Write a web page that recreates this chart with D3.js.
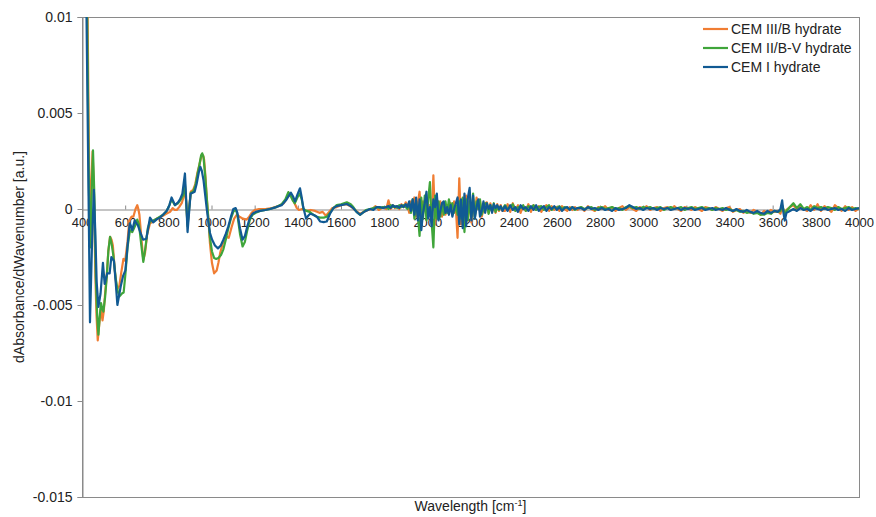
<!DOCTYPE html>
<html lang="en">
<head>
  <meta charset="UTF-8">
  <title>dAbsorbance/dWavenumber</title>
  <script src="https://d3js.org/d3.v7.min.js"></script>
  <style>
    body {
      margin: 0;
      padding: 0;
      background: #fff;
      font-family: 'Liberation Sans', Arial, sans-serif;
    }
    svg text { fill: #222; }
  </style>
</head>
<body>
  <div id="chart"></div>
  <script>
    // values in 10^-3 a.u.

    // 400 - 1800 cm-1, each series sampled at its own turning points [wavenumber, value]
    const cem3bLow = [
      [417, 12], [426, 10], [433, 2], [438, -1.5], [444, 1.5], [449, 3.0], [455, 1.0], [462, -3.5],
      [467, -5.5], [473, -6.85], [480, -6.0], [487, -5.2], [495, -5.8], [501, -5.3], [507, -4.4], [515, -3.4],
      [522, -2.2], [530, -1.45], [537, -1.6], [543, -1.9], [552, -3.2], [561, -4.2], [573, -4.0], [582, -3.3],
      [592, -2.6], [600, -2.7], [611, -1.7], [619, -0.6], [630, -0.4], [638, -0.4], [648, 0.0], [656, 0.2],
      [661, 0.0], [666, -0.3], [675, -1.5], [684, -2.65], [692, -2.3], [702, -1.3], [715, -0.75], [730, -0.65],
      [746, -0.5], [760, -0.45], [775, -0.35], [790, -0.25], [808, -0.15], [820, 0.05], [830, -0.05], [839, -0.05],
      [850, 0.1], [862, 0.3], [870, 0.6], [877, 1.2], [883, 0.3], [889, -0.8], [896, 0.0], [904, 0.9],
      [915, 1.0], [925, 1.3], [935, 1.9], [944, 2.3], [954, 2.8], [961, 2.8], [966, 2.55], [972, 1.7],
      [978, 0.6], [986, -0.6], [993, -1.8], [1002, -2.8], [1012, -3.35], [1024, -3.2], [1032, -2.8], [1040, -2.3],
      [1052, -1.8], [1063, -1.6], [1072, -1.45], [1080, -1.5], [1093, -0.95], [1105, -0.5], [1117, -0.3], [1130, -0.4],
      [1145, -0.5], [1163, -0.55], [1175, -0.4], [1186, -0.2], [1200, -0.05], [1220, 0.0], [1250, 0.0], [1280, 0.05],
      [1310, 0.15], [1335, 0.3], [1352, 0.6], [1365, 0.8], [1375, 0.6], [1385, 0.3], [1395, 0.05], [1405, -0.05],
      [1420, 0.0], [1440, -0.1], [1460, -0.05], [1480, -0.1], [1500, -0.2], [1515, -0.15], [1530, -0.35], [1545, -0.15],
      [1560, 0.05], [1580, 0.1], [1600, 0.2], [1627, 0.25], [1650, 0.1], [1670, -0.1], [1688, -0.25], [1705, -0.15],
      [1725, -0.05], [1745, 0.0], [1760, 0.15], [1775, -0.05], [1795, 0.1]
    ];

    const cem2bvLow = [
      [415, 12], [424, 10], [432, 1], [439, -2.0], [445, 1.0], [451, 3.05], [457, 0.8], [464, -3.5],
      [470, -5.5], [476, -6.55], [482, -5.6], [488, -4.9], [494, -5.2], [499, -5.35], [507, -4.6], [515, -3.5],
      [522, -2.2], [530, -1.45], [537, -1.8], [545, -2.4], [556, -3.6], [566, -4.3], [574, -4.55], [585, -4.4],
      [593, -4.35], [601, -3.4], [611, -2.0], [622, -1.1], [633, -1.2], [645, -0.9], [656, -0.55], [664, -0.8],
      [674, -1.8], [684, -2.75], [694, -2.0], [705, -1.0], [715, -0.65], [730, -0.6], [746, -0.5], [761, -0.4],
      [776, -0.3], [792, -0.1], [805, 0.2], [815, 0.5], [830, 0.2], [845, 0.3], [858, 0.5], [868, 0.7],
      [877, 1.3], [883, 0.3], [889, -0.9], [896, 0.0], [904, 0.85], [915, 0.9], [925, 1.2], [935, 1.8],
      [944, 2.3], [952, 2.8], [957, 2.9], [963, 2.7], [970, 1.8], [978, 0.6], [986, -0.6], [993, -1.5],
      [1002, -2.2], [1012, -2.55], [1022, -2.6], [1032, -2.55], [1044, -2.4], [1055, -2.1], [1066, -1.6], [1078, -1.0],
      [1090, -0.5], [1101, -0.15], [1112, 0.0], [1120, -0.3], [1132, -1.3], [1144, -1.95], [1155, -1.7], [1166, -1.1],
      [1178, -0.55], [1190, -0.3], [1205, -0.2], [1225, -0.1], [1250, -0.05], [1271, 0.0], [1300, 0.1], [1325, 0.25],
      [1342, 0.5], [1356, 0.88], [1366, 0.7], [1376, 0.45], [1386, 0.3], [1398, 0.6], [1410, 0.8], [1418, 0.5],
      [1426, 0.0], [1440, -0.1], [1455, -0.15], [1472, -0.3], [1488, -0.4], [1503, -0.45], [1520, -0.45], [1534, -0.4],
      [1549, -0.2], [1565, 0.05], [1580, 0.2], [1600, 0.25], [1627, 0.35], [1645, 0.25], [1657, 0.1], [1672, -0.15],
      [1688, -0.3], [1700, -0.2], [1715, -0.05], [1734, 0.0], [1750, 0.05], [1765, 0.1], [1780, 0.05], [1795, 0.1]
    ];

    const cem1Low = [
      [416, 12], [421, 10], [437, -5.9], [446, -2.0], [455, 1.0], [461, -1.0], [468, -3.8], [476, -5.1],
      [486, -4.4], [497, -2.8], [505, -3.9], [517, -3.35], [528, -3.35], [536, -2.5], [548, -2.7], [556, -3.8],
      [564, -5.0], [579, -4.05], [590, -3.5], [601, -3.2], [612, -1.8], [621, -0.75], [633, -1.1], [644, -0.6],
      [659, -0.85], [670, -1.2], [683, -1.6], [698, -1.55], [708, -0.9], [715, -0.45], [730, -0.7], [745, -0.55],
      [761, -0.45], [775, -0.3], [792, -0.1], [805, 0.2], [815, 0.6], [831, 0.2], [845, 0.35], [854, 0.5],
      [865, 0.8], [877, 1.85], [883, 0.4], [889, -1.2], [896, -0.2], [903, 0.8], [913, 0.85], [922, 0.9],
      [931, 1.3], [941, 1.9], [948, 2.2], [955, 2.0], [963, 1.5], [970, 0.8], [978, 0.0], [986, -0.7],
      [993, -1.25], [1003, -1.6], [1016, -1.9], [1030, -2.05], [1043, -1.9], [1055, -1.6], [1066, -1.3], [1078, -0.9],
      [1090, -0.4], [1101, 0.0], [1112, 0.05], [1120, -0.2], [1132, -1.0], [1144, -1.6], [1155, -1.4], [1166, -0.9],
      [1178, -0.45], [1190, -0.25], [1205, -0.15], [1225, -0.1], [1250, -0.05], [1271, 0.0], [1300, 0.1], [1325, 0.2],
      [1345, 0.45], [1356, 0.65], [1368, 0.85], [1378, 0.65], [1387, 0.4], [1398, 0.75], [1410, 1.08], [1418, 0.6],
      [1425, 0.1], [1438, -0.5], [1448, -0.35], [1457, -0.25], [1472, -0.3], [1488, -0.4], [1503, -0.65], [1520, -0.68],
      [1534, -0.65], [1549, -0.25], [1565, 0.05], [1580, 0.15], [1600, 0.2], [1627, 0.26], [1645, 0.15], [1657, 0.04],
      [1672, -0.15], [1688, -0.3], [1700, -0.2], [1715, -0.1], [1734, 0.0], [1750, -0.05], [1765, 0.1], [1780, 0.1],
      [1795, 0.05]
    ];

    // 1810 - 4000 cm-1, shared sampling grid for the noisy part
    const noiseWn = [
      1810, 1820, 1830, 1840, 1850, 1860, 1870, 1880,
      1890, 1900, 1908, 1916, 1924, 1932, 1940, 1948,
      1956, 1964, 1972, 1980, 1988, 1996, 2004, 2012,
      2020, 2028, 2036, 2044, 2052, 2060, 2068, 2076,
      2084, 2092, 2100, 2108, 2116, 2124, 2132, 2140,
      2148, 2156, 2164, 2172, 2180, 2188, 2196, 2204,
      2212, 2220, 2228, 2236, 2244, 2252, 2260, 2268,
      2276, 2284, 2292, 2300, 2308, 2316, 2324, 2332,
      2340, 2348, 2360, 2372, 2384, 2396, 2408, 2420,
      2432, 2444, 2456, 2468, 2480, 2492, 2504, 2516,
      2528, 2540, 2552, 2564, 2576, 2588, 2600, 2612,
      2624, 2636, 2648, 2660, 2672, 2684, 2696, 2712,
      2728, 2744, 2760, 2776, 2792, 2808, 2824, 2840,
      2856, 2872, 2888, 2904, 2920, 2936, 2952, 2968,
      2984, 3000, 3016, 3032, 3048, 3064, 3080, 3096,
      3112, 3128, 3144, 3160, 3176, 3192, 3208, 3224,
      3240, 3256, 3272, 3288, 3304, 3320, 3336, 3352,
      3368, 3384, 3400, 3416, 3432, 3448, 3464, 3480,
      3496, 3512, 3528, 3544, 3560, 3576, 3592, 3608,
      3624, 3636, 3644, 3650, 3656, 3664, 3680, 3696,
      3712, 3728, 3744, 3760, 3776, 3792, 3808, 3824,
      3840, 3856, 3872, 3888, 3904, 3920, 3936, 3952,
      3968, 3984, 4000
    ];

    const cem3bNoise = [
      0.0, 0.45, 0.0, 0.2, 0.05, 0.15, 0.0, 0.25,
      0.1, 0.35, 0.2, -0.2, 0.4, 0.1, 0.6, -0.4,
      0.3, 0.9, -0.5, 0.4, 0.0, 0.6, -0.3, 0.2,
      -0.6, 1.75, -0.8, 0.6, -0.3, 0.4, -0.4, 0.3,
      -0.3, 0.2, 0.0, 0.3, -0.3, 0.4, 0.1, -1.5,
      1.6, -0.8, 0.4, -0.6, 0.7, -0.5, 0.6, -0.7,
      0.5, -0.4, 0.6, 0.0, 0.4, -0.4, 0.0, 0.3,
      0.35, -0.2, 0.3, -0.15, 0.2, -0.2, 0.25, -0.1,
      0.2, -0.1, -0.1, 0.25, -0.15, 0.3, -0.1, 0.2,
      -0.2, 0.15, -0.1, 0.25, -0.15, 0.2, -0.05, 0.15,
      -0.15, 0.1, 0.2, -0.1, 0.15, -0.05, 0.1, -0.1,
      0.15, 0.0, -0.1, 0.1, -0.05, 0.1, -0.05, 0.1,
      -0.1, 0.15, 0.0, -0.1, 0.1, 0.0, 0.15, -0.05,
      0.1, -0.1, 0.05, 0.15, -0.05, 0.1, 0.0, -0.1,
      0.1, 0.0, 0.15, -0.05, 0.05, 0.1, -0.1, 0.05,
      0.1, -0.05, 0.15, 0.0, -0.1, 0.1, 0.05, -0.05,
      0.1, 0.0, -0.1, 0.1, 0.05, -0.05, 0.1, 0.0,
      -0.1, 0.05, 0.1, -0.15, -0.05, 0.0, -0.2, -0.1,
      -0.2, -0.05, -0.15, -0.3, -0.1, -0.2, -0.05, -0.15,
      -0.1, -0.25, 0.1, -0.1, -0.3, -0.05, 0.1, 0.2,
      -0.05, 0.15, 0.0, -0.1, 0.2, -0.05, 0.25, -0.1,
      0.15, 0.0, -0.15, 0.2, 0.05, -0.1, 0.15, -0.05,
      0.1, -0.1, 0.05
    ];

    const cem2bvNoise = [
      0.1, 0.0, 0.2, 0.1, 0.15, 0.05, 0.2, 0.1,
      0.2, 0.1, 0.0, 0.3, -0.2, 0.5, -0.5, 0.4,
      -0.3, -1.4, 0.6, -0.5, 0.7, -0.6, 0.5, 1.4,
      -0.7, -2.0, 0.7, -0.5, 0.4, -0.4, 0.3, -0.3,
      0.4, -0.2, 0.5, 0.1, 0.3, -0.2, 0.2, -0.3,
      0.4, -0.5, 0.6, -1.2, 0.5, -0.6, 0.4, -0.4,
      0.8, -0.5, 0.4, 0.0, 0.5, -0.3, 0.0, 0.3,
      0.3, -0.25, 0.2, -0.1, 0.3, -0.15, 0.15, -0.05,
      0.1, 0.0, 0.2, 0.0, 0.1, 0.25, -0.1, 0.1,
      0.05, 0.2, -0.1, 0.15, 0.05, 0.2, -0.05, 0.1,
      0.15, -0.05, 0.1, 0.2, -0.05, 0.1, 0.05, 0.15,
      0.0, 0.1, 0.05, 0.0, 0.1, -0.05, 0.05, 0.1,
      0.0, 0.05, 0.1, -0.05, 0.05, 0.1, 0.0, 0.05,
      0.1, 0.0, 0.05, -0.05, 0.1, 0.15, 0.05, 0.1,
      0.0, 0.1, 0.05, 0.1, 0.0, 0.05, 0.1, -0.05,
      0.05, 0.1, 0.0, 0.05, 0.1, -0.05, 0.05, 0.1,
      0.0, 0.05, 0.1, 0.0, 0.05, -0.05, 0.05, 0.0,
      0.05, -0.05, 0.0, -0.1, -0.05, -0.15, -0.1, -0.2,
      -0.15, -0.25, -0.2, -0.3, -0.3, -0.2, -0.25, -0.1,
      -0.15, -0.1, 0.2, 0.0, -0.35, -0.1, 0.1, 0.3,
      0.05, 0.25, 0.0, 0.1, -0.05, 0.15, 0.05, 0.1,
      0.0, 0.1, 0.05, -0.05, 0.1, 0.0, 0.05, 0.1,
      0.0, 0.05, 0.0
    ];

    const cem1Noise = [
      0.1, 0.15, 0.05, 0.2, 0.1, 0.15, 0.05, 0.2,
      0.1, 0.25, 0.1, 0.4, -0.1, 0.5, -0.3, 0.6,
      -0.6, 0.5, -1.1, -0.2, 0.3, 0.9, -0.5, 0.1,
      -0.9, 0.5, 0.1, 0.8, -0.6, -0.1, 0.3, 0.4,
      -0.2, 0.1, -0.3, 0.2, -0.4, 0.0, 0.3, 0.6,
      -0.8, 0.5, -1.0, 0.8, -0.9, 0.6, 1.1, -0.6,
      0.7, -0.5, 0.1, 0.5, -0.4, -0.1, 0.4, -0.2,
      0.3, 0.0, 0.2, -0.2, 0.25, 0.05, 0.2, 0.0,
      0.15, -0.1, 0.15, -0.1, 0.2, -0.05, 0.1, -0.15,
      0.2, 0.0, 0.1, -0.1, 0.15, -0.05, 0.2, -0.1,
      0.05, 0.15, -0.1, 0.1, 0.0, 0.15, -0.05, 0.1,
      -0.1, 0.05, 0.1, -0.05, 0.1, 0.0, 0.05, 0.05,
      -0.05, 0.1, 0.0, 0.05, -0.05, 0.05, -0.05, 0.0,
      -0.1, 0.05, -0.05, 0.0, 0.05, 0.2, 0.1, 0.0,
      0.05, -0.05, 0.05, 0.0, 0.05, -0.05, 0.05, 0.0,
      0.05, -0.05, 0.0, 0.05, -0.05, 0.05, 0.0, 0.05,
      -0.05, 0.0, 0.05, -0.05, 0.0, 0.05, -0.05, 0.0,
      -0.05, 0.05, -0.05, -0.1, 0.0, -0.1, -0.15, -0.05,
      -0.15, -0.2, -0.1, -0.2, -0.25, -0.1, -0.2, -0.1,
      -0.15, 0.0, 0.45, -0.2, -0.6, -0.2, -0.1, 0.0,
      -0.1, 0.05, -0.05, 0.0, -0.1, 0.05, 0.0, -0.05,
      0.05, -0.05, 0.0, 0.05, -0.05, 0.0, -0.1, 0.05,
      -0.05, 0.0, 0.05
    ];

    const seriesNames = ['CEM III/B hydrate', 'CEM II/B-V hydrate', 'CEM I hydrate'];
    const seriesColors = ['#F07D33', '#3FA53A', '#115A93'];

    const xTicks = [400, 600, 800, 1000, 1200, 1400, 1600, 1800, 2000, 2200, 2400,
                    2600, 2800, 3000, 3200, 3400, 3600, 3800, 4000];
    const yTicks = [10, 5, 0, -5, -10, -15];
    const yTickLabels = ['0.01', '0.005', '0', '-0.005', '-0.01', '-0.015'];

    const width = 876, height = 517;
    const plot = { left: 82, right: 859, top: 17, bottom: 497 };

    const x = d3.scaleLinear().domain([400, 4000]).range([plot.left, plot.right]);
    const y = d3.scaleLinear().domain([-15, 10]).range([plot.bottom, plot.top]);

    const svg = d3.select('#chart').append('svg')
      .attr('width', width)
      .attr('height', height)
      .style('font-family', "'Liberation Sans', Arial, sans-serif");

    svg.append('defs').append('clipPath').attr('id', 'clip')
      .append('rect')
      .attr('x', plot.left).attr('y', plot.top)
      .attr('width', plot.right - plot.left).attr('height', plot.bottom - plot.top);

    // plot frame
    svg.append('rect')
      .attr('x', plot.left + 0.5).attr('y', plot.top + 0.5)
      .attr('width', plot.right - plot.left).attr('height', plot.bottom - plot.top)
      .attr('fill', 'none').attr('stroke', '#8a8a8a').attr('stroke-width', 1);

    // y axis
    const yAxis = svg.append('g')
      .attr('transform', `translate(${plot.left + 0.5},0)`)
      .call(d3.axisLeft(y).tickValues(yTicks).tickSize(5).tickPadding(5)
        .tickFormat((d, i) => yTickLabels[i]));
    yAxis.select('.domain').attr('stroke', '#8a8a8a');
    yAxis.selectAll('.tick line').attr('stroke', '#8a8a8a');
    yAxis.selectAll('.tick text').attr('font-size', 14).attr('fill', '#222')
      .attr('font-family', "'Liberation Sans', Arial, sans-serif");

    // x axis crossing at zero, ticks pointing up
    const xAxis = svg.append('g')
      .attr('transform', `translate(0,${Math.round(y(0)) + 0.5})`)
      .call(d3.axisBottom(x).tickValues(xTicks).tickSizeInner(-4).tickSizeOuter(0).tickPadding(8)
        .tickFormat(d3.format('d')));
    xAxis.select('.domain').attr('stroke', '#8a8a8a');
    xAxis.selectAll('.tick line').attr('stroke', '#8a8a8a');
    xAxis.selectAll('.tick text').attr('font-size', 13).attr('fill', '#222')
      .attr('font-family', "'Liberation Sans', Arial, sans-serif");

    // series
    const line = d3.line()
      .x(d => x(d[0]))
      .y(d => y(d[1]));

    const noisePairs = vals => noiseWn.map((w, i) => [w, vals[i]]);
    const seriesData = [
      cem3bLow.concat(noisePairs(cem3bNoise)),
      cem2bvLow.concat(noisePairs(cem2bvNoise)),
      cem1Low.concat(noisePairs(cem1Noise))
    ];

    svg.append('g').attr('clip-path', 'url(#clip)')
      .selectAll('path')
      .data(seriesData)
      .join('path')
      .attr('d', line)
      .attr('fill', 'none')
      .attr('stroke', (d, i) => seriesColors[i])
      .attr('stroke-width', 2.2)
      .attr('stroke-linejoin', 'round');

    // legend
    const legend = svg.append('g');
    seriesNames.forEach((name, i) => {
      const ly = 29 + i * 19;
      legend.append('line')
        .attr('x1', 703).attr('x2', 728)
        .attr('y1', ly).attr('y2', ly)
        .attr('stroke', seriesColors[i]).attr('stroke-width', 2.2);
      legend.append('text')
        .attr('x', 731).attr('y', ly)
        .attr('dy', '0.35em')
        .attr('font-size', 14)
        .text(name);
    });

    // axis titles
    svg.append('text')
      .attr('x', (plot.left + plot.right) / 2)
      .attr('y', 511)
      .attr('text-anchor', 'middle')
      .attr('font-size', 14)
      .text('Wavelength [cm')
      .append('tspan').attr('font-size', 9).attr('dy', -5).text('-1')
      .select(function () { return this.parentNode; })
      .append('tspan').attr('dy', 5).text(']');

    svg.append('text')
      .attr('transform', `translate(24,${(plot.top + plot.bottom) / 2}) rotate(-90)`)
      .attr('text-anchor', 'middle')
      .attr('font-size', 14)
      .text('dAbsorbance/dWavenumber [a.u.]');
  </script>
</body>
</html>
